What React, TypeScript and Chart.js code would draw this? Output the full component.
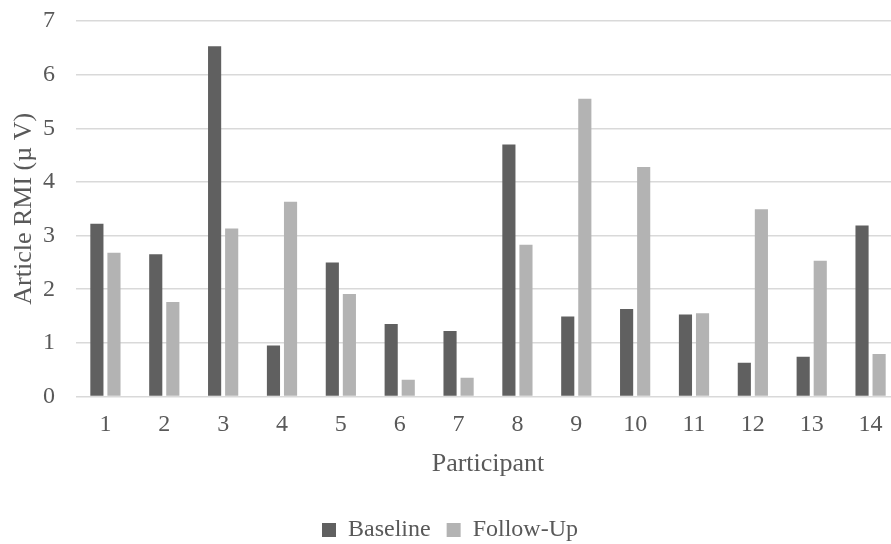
import React, { useEffect, useRef } from "react";
import { Chart, registerables } from "chart.js";

Chart.register(...registerables);

const categories = ["1", "2", "3", "4", "5", "6", "7", "8", "9", "10", "11", "12", "13", "14"];
const baseline = [3.22, 2.65, 6.53, 0.95, 2.5, 1.35, 1.22, 4.7, 1.49, 1.63, 1.53, 0.63, 0.74, 3.19];
const followUp = [2.68, 1.76, 3.13, 3.63, 1.91, 0.31, 0.35, 2.83, 5.55, 4.28, 1.55, 3.49, 2.53, 0.79];
const yTicks = [0, 1, 2, 3, 4, 5, 6, 7];

const FONT = "'Liberation Serif', 'Times New Roman', serif";
const TEXT = "#595959";

export default function App() {
  const ref = useRef<HTMLCanvasElement | null>(null);
  useEffect(() => {
    if (!ref.current) return;
    const chart = new Chart(ref.current, {
      type: "bar",
      data: {
        labels: categories,
        datasets: [
          {
            label: "Baseline",
            data: baseline,
            backgroundColor: "#606060",
            categoryPercentage: 0.58,
            barPercentage: 0.77,
          },
          {
            label: "Follow-Up",
            data: followUp,
            backgroundColor: "#b3b3b3",
            categoryPercentage: 0.58,
            barPercentage: 0.77,
          },
        ],
      },
      options: {
        responsive: false,
        animation: false,
        layout: { padding: { top: 21, right: 10, left: 0, bottom: 0 } },
        plugins: {
          tooltip: { enabled: false },
          legend: {
            position: "bottom",
            labels: {
              font: { family: FONT, size: 24 },
              color: TEXT,
              boxWidth: 14,
              boxHeight: 14,
              padding: 16,
            },
          },
        },
        scales: {
          x: {
            grid: { display: false, drawTicks: false },
            border: { display: false },
            ticks: { font: { family: FONT, size: 24 }, color: TEXT, padding: 14 },
            title: {
              display: true,
              text: "Participant",
              font: { family: FONT, size: 26 },
              color: TEXT,
              padding: { top: 0, bottom: 22 },
            },
            afterFit: (s: any) => {
              s.height = 105.5;
            },
          },
          y: {
            min: 0,
            max: 7,
            afterBuildTicks: (s: any) => {
              s.ticks = yTicks.map((v) => ({ value: v }));
            },
            grid: { color: "#d9d9d9", lineWidth: 1.5, drawTicks: false },
            border: { display: false },
            ticks: { font: { family: FONT, size: 24 }, color: TEXT, padding: 21 },
            title: {
              display: true,
              text: "Article RMI (µ V)",
              font: { family: FONT, size: 26 },
              color: TEXT,
              padding: { top: 9, bottom: 0 },
            },
            afterFit: (s: any) => {
              s.width = 76;
              s.paddingTop = 0;
              s.paddingBottom = 0;
            },
          },
        },
      },
    });
    return () => chart.destroy();
  }, []);
  return (
    <div style={{ position: "fixed", left: 0, top: 0, width: 891, height: 544, overflow: "hidden", background: "#fff" }}>
      <canvas ref={ref} width={910} height={552} style={{ display: "block" }} />
    </div>
  );
}
